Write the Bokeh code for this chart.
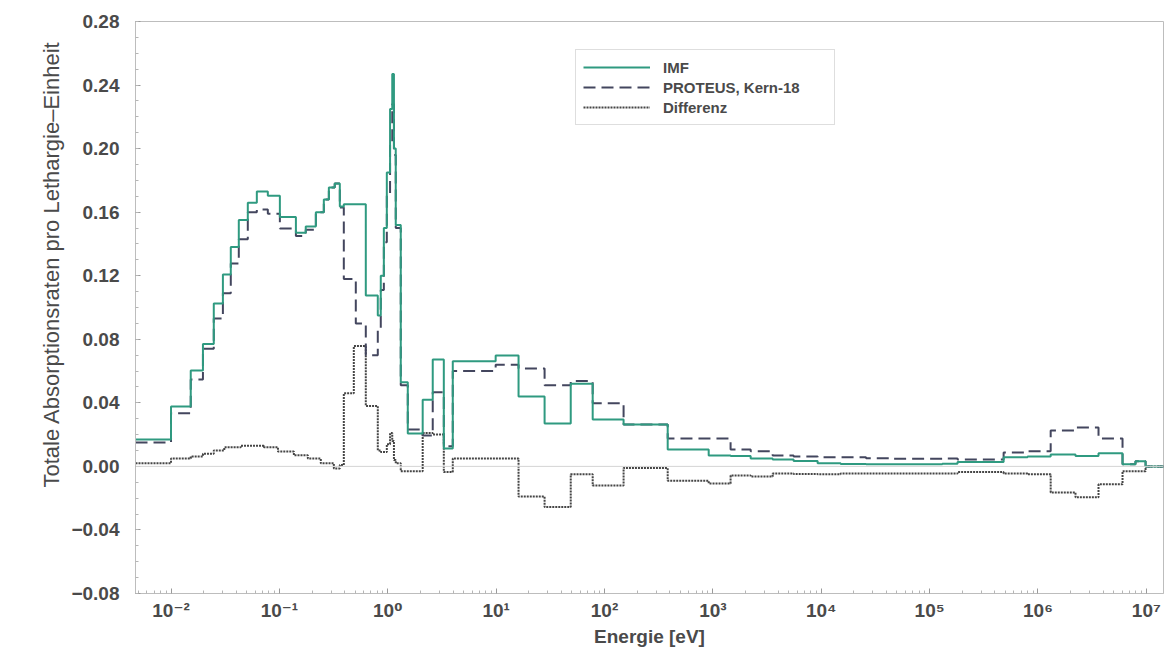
from bokeh.plotting import figure
from bokeh.models import Range1d, FixedTicker, Span, Legend, LegendItem, LinearAxis, Title
from bokeh.embed import file_html
from bokeh.resources import INLINE

# Group boundaries (eV) shared by the IMF and PROTEUS spectra
group_edges = [
    0.0047, 0.01, 0.0152, 0.0197, 0.0248, 0.0301, 0.0356, 0.0422, 0.0511,
    0.0619, 0.0782, 0.101, 0.142, 0.175, 0.217, 0.257, 0.286, 0.324, 0.361,
    0.393, 0.507, 0.627, 0.809, 0.862, 0.92, 0.98, 1.05, 1.10, 1.14, 1.185,
    1.318, 1.53, 2.10, 2.60, 3.29, 3.98, 9.9, 16.1, 28.0, 48.8, 77.8, 150.0,
    383.0, 915.0, 1457.0, 2232.0, 3562.0, 5560.0, 9260.0, 15100.0, 25900.0,
    44500.0, 76400.0, 131000.0, 181000.0, 482000.0, 802000.0, 1.31e6, 2.22e6,
    3.62e6, 6.03e6, 7.94e6, 9.84e6, 1.44e7,
]

imf = [
    0.017, 0.0377, 0.0604, 0.077, 0.1025, 0.1208, 0.138, 0.155, 0.166,
    0.173, 0.1704, 0.157, 0.147, 0.151, 0.160, 0.168, 0.1756, 0.178, 0.1635,
    0.165, 0.165, 0.1075, 0.095, 0.120, 0.150, 0.185, 0.225, 0.247, 0.200,
    0.152, 0.053, 0.0207, 0.042, 0.0673, 0.0113, 0.0662, 0.0698, 0.044,
    0.027, 0.052, 0.0295, 0.0264, 0.0107, 0.0069, 0.0065, 0.005, 0.0044,
    0.0034, 0.0019, 0.0015, 0.0013, 0.0013, 0.0014, 0.0017, 0.0027, 0.0057,
    0.0063, 0.0075, 0.0065, 0.0082, 0.0013, 0.0033, 0.0,
]

proteus = [
    0.015, 0.0335, 0.0547, 0.074, 0.093, 0.109, 0.1277, 0.143, 0.160,
    0.1616, 0.159, 0.1497, 0.145, 0.149, 0.160, 0.168, 0.1756, 0.178, 0.163,
    0.118, 0.090, 0.070, 0.0855, 0.111, 0.141, 0.171, 0.204, 0.228, 0.196,
    0.150, 0.051, 0.0232, 0.0195, 0.0467, 0.0126, 0.060, 0.064, 0.0616,
    0.051, 0.0537, 0.0398, 0.0264, 0.0176, 0.0176, 0.0107, 0.0096, 0.0069,
    0.0062, 0.0057, 0.0057, 0.0052, 0.0048, 0.0048, 0.005, 0.0044, 0.0088,
    0.0096, 0.0226, 0.0245, 0.0176, 0.0013, 0.0033, 0.0,
]

# Difference spectrum, drawn on its own (finer) group structure
diff_edges = [
    0.0047, 0.01, 0.0152, 0.0197, 0.0248, 0.031, 0.044, 0.072, 0.097, 0.136,
    0.183, 0.241, 0.318, 0.361, 0.393, 0.486, 0.627, 0.809, 0.862, 0.92,
    0.98, 1.05, 1.10, 1.14, 1.185, 1.318, 2.10, 2.60, 3.29, 3.98, 16.1, 28.0,
    48.8, 77.8, 150.0, 383.0, 915.0, 1457.0, 2232.0, 3562.0, 5560.0, 9260.0,
    15100.0, 181000.0, 482000.0, 802000.0, 1.31e6, 2.22e6, 3.62e6, 6.03e6,
    9.84e6, 1.44e7,
]

differenz = [
    0.002, 0.005, 0.0063, 0.008, 0.010, 0.012, 0.013, 0.012, 0.0094, 0.007,
    0.005, 0.002, -0.0013, 0.0008, 0.046, 0.0757, 0.038, 0.010, 0.009,
    0.009, 0.014, 0.021, 0.016, 0.004, 0.002, -0.003, 0.021, 0.020, -0.0036,
    0.005, -0.019, -0.0256, -0.005, -0.012, -0.001, -0.009, -0.0107,
    -0.0057, -0.0064, -0.0044, -0.0048, -0.005, -0.0045, -0.0036, -0.0045,
    -0.005, -0.0164, -0.0195, -0.0113, -0.003, 0.0,
]

y_ticks = [-0.08, -0.04, 0.0, 0.04, 0.08, 0.12, 0.16, 0.20, 0.24, 0.28]
x_ticks = [1e-2, 1e-1, 1e0, 1e1, 1e2, 1e3, 1e4, 1e5, 1e6, 1e7]
x_tick_labels = ["10⁻²", "10⁻¹", "10⁰", "10¹", "10²", "10³", "10⁴", "10⁵", "10⁶", "10⁷"]

FONT = "Liberation Sans, DejaVu Sans, sans-serif"
TEXT = "#4a4a4a"
LINE = "#bdbdbd"


def step_xy(edges, vals):
    return list(edges), list(vals) + [vals[-1]]


p = figure(
    width=1166, height=650, x_axis_type="log",
    x_range=Range1d(group_edges[0], group_edges[-1]),
    y_range=Range1d(-0.08, 0.28),
    output_backend="svg", toolbar_location=None,
    min_border_left=135, min_border_right=3, min_border_top=21, min_border_bottom=57,
)
p.background_fill_color = "white"
p.border_fill_color = "white"
p.outline_line_color = LINE
p.grid.visible = False

p.add_layout(Span(location=0.0, dimension="width", line_color="#d4d4d4", line_width=1))

x, y = step_xy(diff_edges, differenz)
r_diff = p.step(x, y, mode="after", line_color="#454545", line_width=2, line_dash="2 1")
x, y = step_xy(group_edges, proteus)
r_pro = p.step(x, y, mode="after", line_color="#43465e", line_width=2, line_dash="12 6")
x, y = step_xy(group_edges, imf)
r_imf = p.step(x, y, mode="after", line_color="#2f9a80", line_width=2)

xax = p.below[0]
yax = p.left[0]

x_minor = [m * 10.0 ** e for e in range(-3, 8) for m in range(2, 10)]
y_minor = [round(-0.08 + 0.01 * i, 2) for i in range(37)]

yax.ticker = FixedTicker(ticks=y_ticks, minor_ticks=y_minor)
yax.major_label_overrides = {t: ("−%.2f" % abs(t) if t < 0 else "%.2f" % t) for t in y_ticks}
xax.ticker = FixedTicker(ticks=x_ticks, minor_ticks=x_minor)
xax.major_label_overrides = {t: s for t, s in zip(x_ticks, x_tick_labels)}

for ax in (xax, yax):
    ax.axis_line_color = LINE
    ax.major_tick_line_color = "#9a9a9a"
    ax.minor_tick_line_color = "#b5b5b5"
    ax.major_tick_in = 5
    ax.major_tick_out = 0
    ax.minor_tick_in = 3
    ax.minor_tick_out = 0
    ax.major_label_text_font = FONT
    ax.major_label_text_font_style = "bold"
    ax.major_label_text_font_size = "19px"
    ax.major_label_text_color = TEXT
    ax.axis_label_text_font = FONT
    ax.axis_label_text_color = TEXT

yax.major_label_standoff = 16
xax.major_label_standoff = 6
xax.axis_label = "Energie [eV]"
xax.axis_label_text_font_style = "bold"
xax.axis_label_text_font_size = "19px"
xax.axis_label_standoff = 2

# empty spacer axis (no ticks) that pushes the vertical title further left
spacer = LinearAxis(
    ticker=FixedTicker(ticks=[]),
    axis_line_color=None, major_tick_line_color="white", minor_tick_line_color=None,
    major_tick_in=0, major_tick_out=30, minor_tick_in=0, minor_tick_out=0,
    major_label_standoff=0,
)
p.add_layout(spacer, "left")

# vertical title, starting a little above the frame bottom
y_title = Title(
    text="Totale Absorptionsraten pro Lethargie–Einheit",
    align="left", offset=106, standoff=10,
    text_font=FONT, text_font_size="22px", text_font_style="normal",
    text_color=TEXT,
)
p.add_layout(y_title, "left")

legend = Legend(
    items=[
        LegendItem(label="IMF", renderers=[r_imf]),
        LegendItem(label="PROTEUS, Kern-18", renderers=[r_pro]),
        LegendItem(label="Differenz", renderers=[r_diff]),
    ],
    location=(440, 468),
    glyph_width=67, label_standoff=13, label_height=20, glyph_height=20,
    label_width=164, padding=7, spacing=0, margin=0,
    border_line_color=LINE, border_line_width=1,
    label_text_font=FONT, label_text_font_style="bold",
    label_text_font_size="15px", label_text_color=TEXT,
    background_fill_alpha=1.0,
)
p.add_layout(legend, "center")

open("out.html", "w").write(file_html(p, INLINE))
